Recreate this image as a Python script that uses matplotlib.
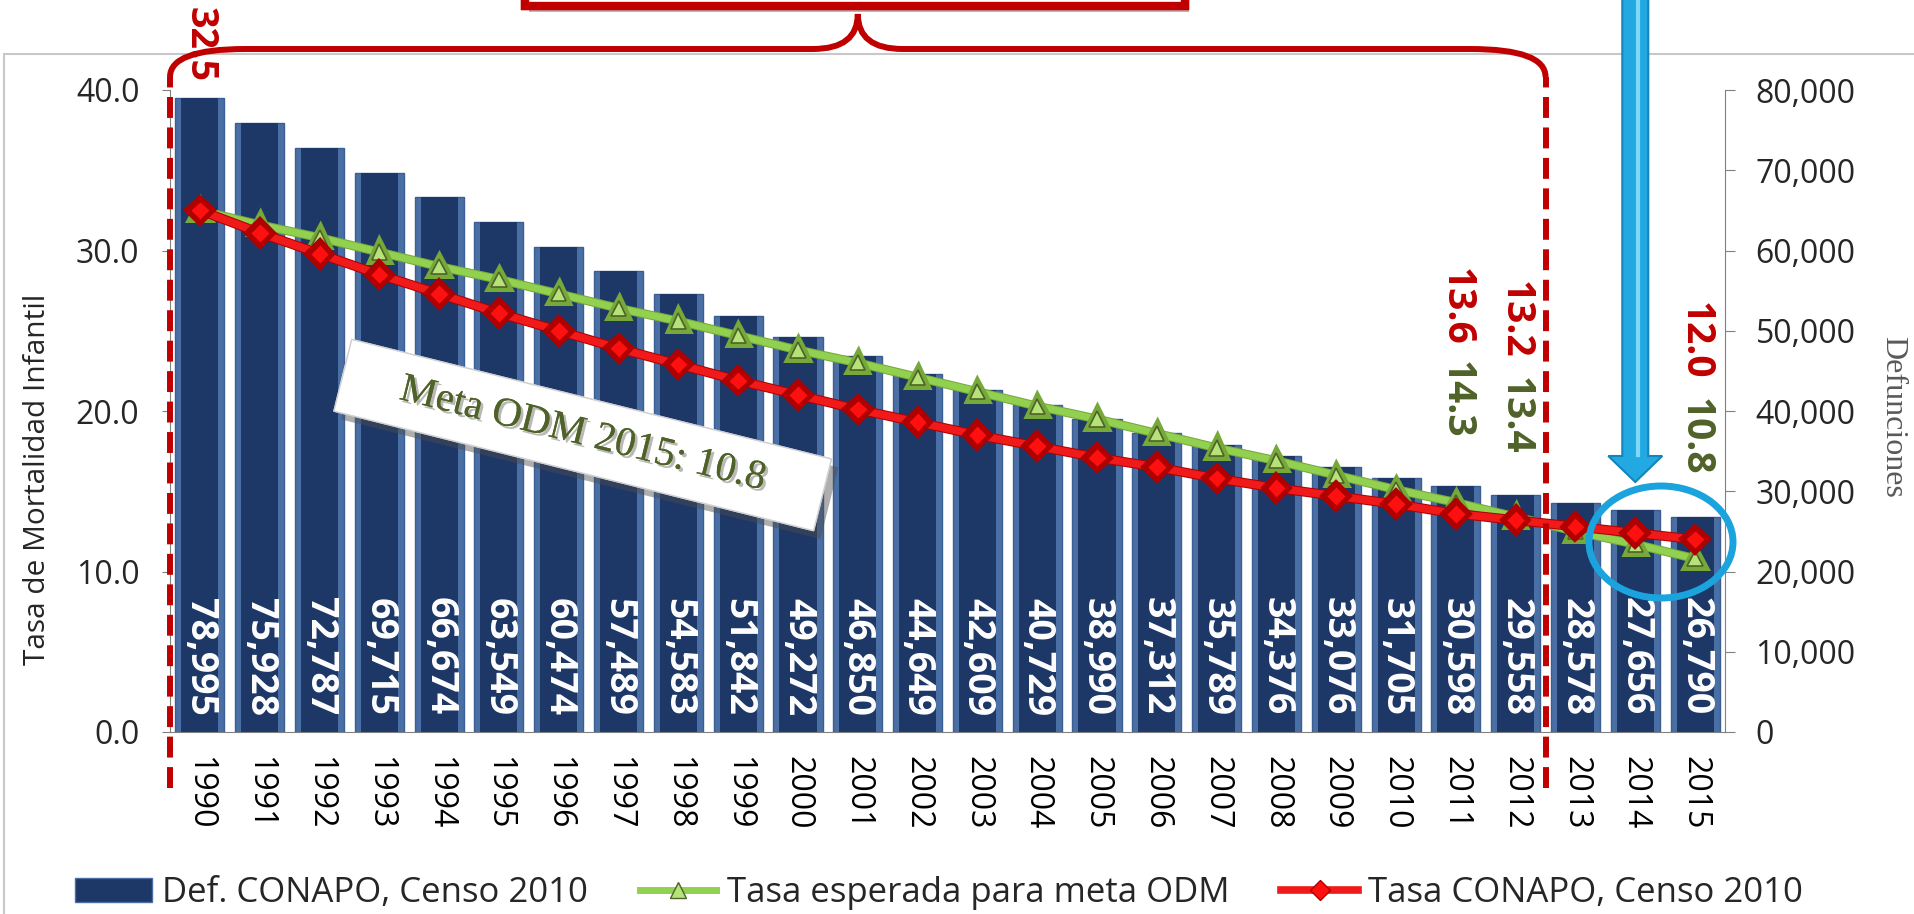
import matplotlib
matplotlib.use("Agg")
import matplotlib.pyplot as plt
import matplotlib.patheffects as pe
from matplotlib.patches import Rectangle, Ellipse, FancyArrow, PathPatch
from matplotlib.path import Path
from matplotlib.lines import Line2D
from matplotlib.transforms import IdentityTransform
from matplotlib.ticker import FuncFormatter

plt.rcParams['font.family'] = ['Open Sans', 'DejaVu Sans']

years = list(range(1990, 2016))
defunciones = [78995, 75928, 72787, 69715, 66674, 63549, 60474, 57489, 54583, 51842,
               49272, 46850, 44649, 42609, 40729, 38990, 37312, 35789, 34376, 33076,
               31705, 30598, 29558, 28578, 27656, 26790]
tasa_conapo = [32.5, 31.1, 29.8, 28.5, 27.3, 26.1, 25.0, 23.9, 22.9, 21.9,
               21.0, 20.1, 19.3, 18.5, 17.8, 17.1, 16.5, 15.8, 15.2, 14.7,
               14.2, 13.6, 13.2, 12.8, 12.4, 12.0]
tasa_meta = [32.5, 31.6, 30.8, 29.9, 29.0, 28.2, 27.3, 26.4, 25.6, 24.7,
             23.8, 23.0, 22.1, 21.2, 20.3, 19.5, 18.6, 17.7, 16.9, 16.0,
             15.1, 14.3, 13.4, 12.5, 11.7, 10.8]
label_bars = "Def. CONAPO, Censo 2010"
label_meta = "Tasa esperada para meta ODM"
label_conapo = "Tasa CONAPO, Censo 2010"

W, H = 1915, 914
RED = '#C00000'
OLIVE = '#4F6228'
BLUE = '#1AA3DD'
GRAY = '#808080'

fig = plt.figure(figsize=(W / 100, H / 100), dpi=100)
fig.patch.set_facecolor('white')

ax = fig.add_axes([170 / W, 1 - 732 / H, 1555 / W, 642 / H])
ax2 = ax.twinx()
ax.set_zorder(ax2.get_zorder() + 1)
ax.patch.set_visible(False)

x = list(range(len(years)))

# bars (right axis)
ax2.bar(x, defunciones, width=0.82, color='#4A6FA5', edgecolor='#3B5E93',
        linewidth=1, zorder=2)
ax2.bar(x, defunciones, width=0.62, color='#1D3767', linewidth=0, zorder=2)
for xi, v in zip(x, defunciones):
    ax2.text(xi, 9400, f"{v:,}", rotation=270, ha='center', va='center',
             color='white', fontsize=27, fontweight='bold', zorder=3)

# lines (left axis)
ax.plot(x, tasa_meta, color='#92D050', lw=5, marker='^', ms=11,
        mfc='#B5E37A', mec=OLIVE, mew=1.2, zorder=4,
        path_effects=[pe.Stroke(linewidth=6.5, foreground='#76A83A'), pe.Normal()])
ax.plot(x, tasa_conapo, color='#F01A1A', lw=5.5, marker='D', ms=10,
        mfc='#FF1010', mec='#B00000', mew=1, zorder=5,
        path_effects=[pe.Stroke(linewidth=7, foreground='#B00000'), pe.Normal()])

ax.set_xlim(-0.5, 25.5)
ax.set_ylim(0, 40)
ax2.set_ylim(0, 80000)
ax.set_yticks([0, 10, 20, 30, 40])
ax.yaxis.set_major_formatter(FuncFormatter(lambda v, p: f"{v:.1f}"))
ax2.set_yticks(range(0, 80001, 10000))
ax2.yaxis.set_major_formatter(FuncFormatter(lambda v, p: f"{v:,.0f}"))
ax.set_xticks(x)
ax.set_xticklabels([str(y) for y in years], rotation=270, fontsize=23)

for a in (ax, ax2):
    for s in a.spines.values():
        s.set_visible(False)
ax.spines['bottom'].set_visible(True)
ax.spines['bottom'].set_color(GRAY)
ax.spines['left'].set_visible(True)
ax.spines['left'].set_color(GRAY)
ax2.spines['right'].set_visible(True)
ax2.spines['right'].set_color(GRAY)

ax.tick_params(axis='x', length=0, pad=17)
ax.tick_params(axis='y', labelsize=23, length=6, color=GRAY, pad=16, labelcolor='#262626')
ax2.tick_params(axis='y', labelsize=23, length=7, color=GRAY, pad=15, labelcolor='#262626')

ax.set_ylabel("Tasa de Mortalidad Infantil", fontsize=21.5, color='#262626', va='center')
ax.yaxis.set_label_coords(-0.0855, 0.393)
ax2.set_ylabel("Defunciones", fontsize=23, color='#595959',
               family='Liberation Serif', rotation=270, va='center')
ax2.yaxis.set_label_coords(1.108, 0.49)

# value callouts
ax.text(0, 42.85, "32.5", rotation=270, ha='center', va='center', color=RED,
        fontsize=27, fontweight='bold', clip_on=False)
callouts = [(21, 26.5, "13.6", RED), (21, 20.7, "14.3", OLIVE),
            (22, 25.7, "13.2", RED), (22, 19.7, "13.4", OLIVE),
            (25, 24.4, "12.0", RED), (25, 18.4, "10.8", OLIVE)]
for cx, cy, s, c in callouts:
    ax.text(cx, cy, s, rotation=270, ha='center', va='center', color=c,
            fontsize=28, fontweight='bold')

# Meta ODM box
t = ax.text(6.4, 18.5, "    Meta ODM 2015: 10.8    ", rotation=-14, rotation_mode='anchor',
            ha='center', va='center', fontsize=29.5, color=OLIVE,
            family='Liberation Serif', zorder=7,
            bbox=dict(boxstyle='square,pad=0.45', fc='white', ec='#D0D0D0', lw=1))
t.get_bbox_patch().set_path_effects([pe.withSimplePatchShadow(offset=(5, -6), alpha=0.45), pe.Normal()])
t.set_path_effects([pe.withSimplePatchShadow(offset=(2, -2), alpha=0.3), pe.Normal()])

# legend
handles = [Rectangle((0, 0), 1, 1, fc='#1D3767', ec='#4A6FA5'),
           Line2D([], [], color='#92D050', lw=5, marker='^', ms=11, mfc='#B5E37A', mec=OLIVE),
           Line2D([], [], color='#F01A1A', lw=5.5, marker='D', ms=10, mfc='#FF1010', mec='#B00000')]
fig.legend(handles, [label_bars, label_meta, label_conapo], loc='center left',
           bbox_to_anchor=(44 / W, 1 - 893 / H), ncol=3, frameon=False, fontsize=25,
           handlelength=2.2, handletextpad=0.3, columnspacing=1.5, numpoints=1,
           labelcolor='#262626')

fig.canvas.draw()
ident = IdentityTransform()


def dx(xd):
    return ax.transData.transform((xd, 0))[0]


def fy(y):
    return H - y


# chart frame
fig.add_artist(Rectangle((4, fy(914 + 20)), W, 914 + 20 - 54, transform=ident,
                         fill=False, ec='#C8C8C8', lw=1.5, zorder=0))

# brace with dashed legs
xl, xr = dx(-0.5), dx(22.5)
xm = (xl + xr) / 2
yb, yt, yp, yc = fy(788), fy(77), fy(49), fy(14)
dash = dict(color=RED, lw=4.3, ls=(0, (3.5, 1.6)), transform=ident, zorder=8)
fig.add_artist(Line2D([xl, xl], [yb, yt], **dash))
fig.add_artist(Line2D([xr, xr], [yb, yt], **dash))
verts = [(xl, yt), (xl, yp), (xl + 75, yp), (xm - 45, yp), (xm, yp), (xm, yc),
         (xm, yp), (xm + 45, yp), (xr - 75, yp), (xr, yp), (xr, yt)]
codes = [Path.MOVETO, Path.CURVE3, Path.CURVE3, Path.LINETO, Path.CURVE3, Path.CURVE3,
         Path.CURVE3, Path.CURVE3, Path.LINETO, Path.CURVE3, Path.CURVE3]
fig.add_artist(PathPatch(Path(verts, codes), fill=False, ec=RED, lw=4.3,
                         transform=ident, zorder=8))

# red box at top (cut off)
box = Rectangle((525, fy(6)), 660, 80, transform=ident, fc='white', ec=RED, lw=6, zorder=8)
box.set_path_effects([pe.withSimplePatchShadow(offset=(3, -4), alpha=0.4), pe.Normal()])
fig.add_artist(box)

# blue arrow and circle
xa = dx(24)
arrow = FancyArrow(xa, fy(-10), 0, -(482 + 10), width=26, head_width=54, head_length=26,
                   length_includes_head=True, transform=ident, fc='#22A9E1', ec='#1285BF',
                   lw=1.5, zorder=9)
fig.add_artist(arrow)
fig.add_artist(Line2D([xa + 3, xa + 3], [fy(-10), fy(455)], color='#7FD8F8', lw=3,
                      transform=ident, zorder=10))
fig.add_artist(Ellipse((dx(24.43), fy(542)), 144, 112, transform=ident, fill=False,
                       ec=BLUE, lw=5, zorder=9))

fig.savefig("out.png", dpi=100, facecolor='white')
